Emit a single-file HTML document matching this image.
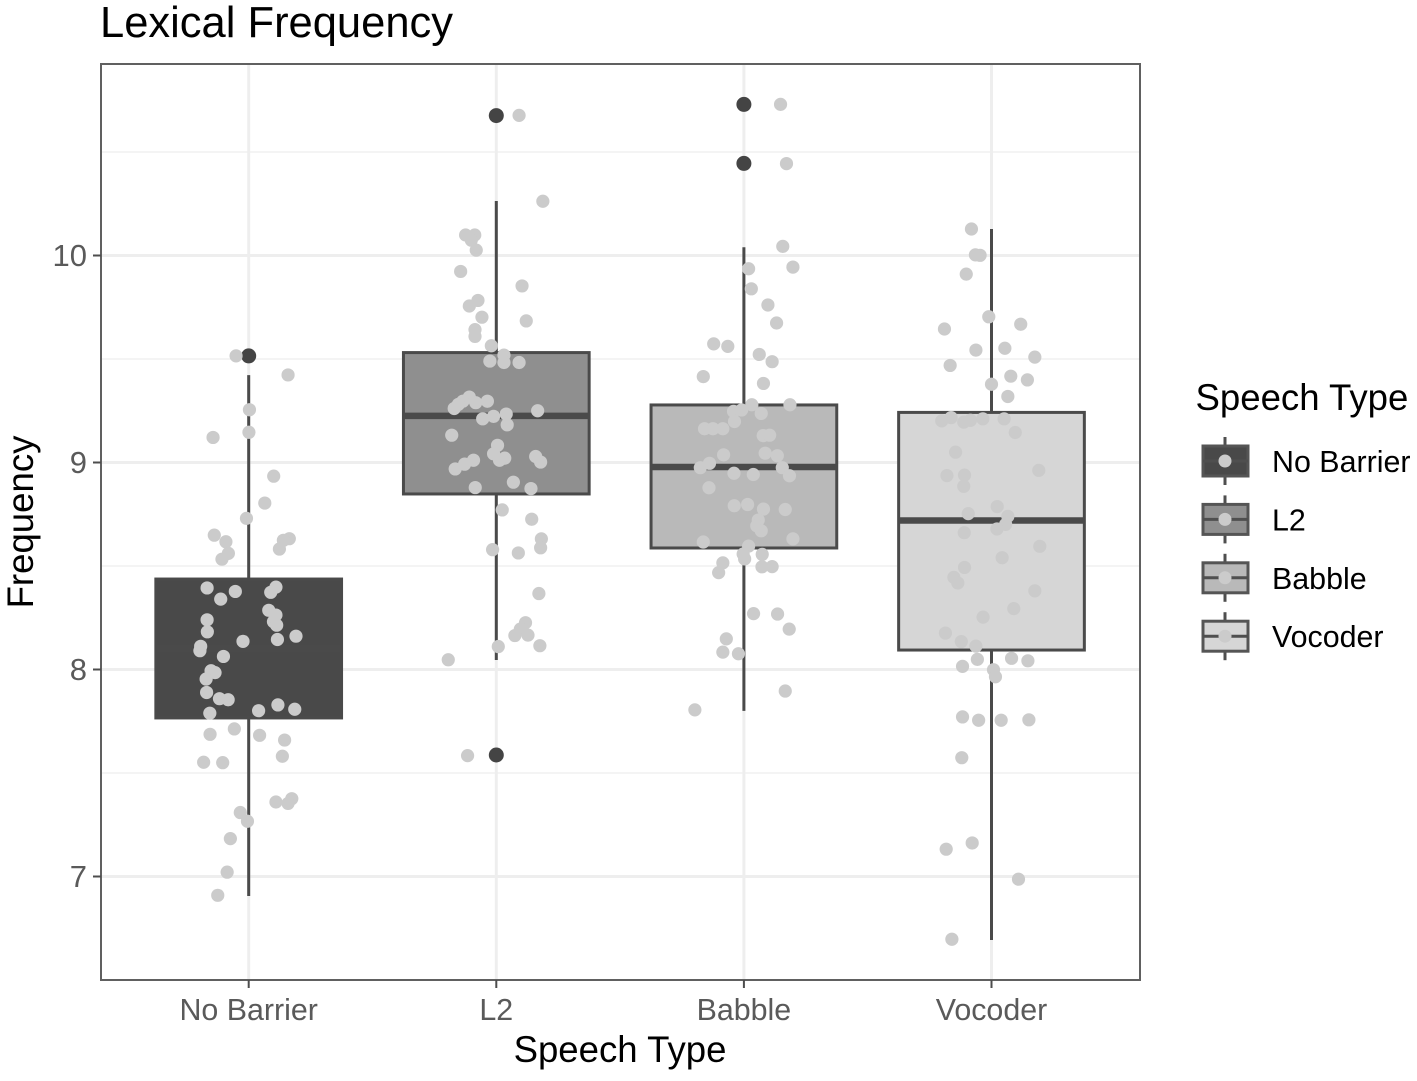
<!DOCTYPE html>
<html lang="en">
<head>
<meta charset="utf-8">
<title>Lexical Frequency</title>
<style>
html,body{margin:0;padding:0;background:#fff;}
svg{display:block;font-family:"Liberation Sans",Arial,sans-serif;}
</style>
</head>
<body>
<svg id="chart" width="1417" height="1081" viewBox="0 0 1417 1081" xmlns="http://www.w3.org/2000/svg">
  <rect x="0" y="0" width="1417" height="1081" fill="#fff"/>
  <text x="100" y="37" font-size="43.5" fill="#000">Lexical Frequency</text>
  <text x="620" y="1062" font-size="36.6" text-anchor="middle" fill="#000">Speech Type</text>
  <text x="0" y="0" transform="translate(33 522) rotate(-90)" font-size="36.6" text-anchor="middle" fill="#000">Frequency</text>
  <text x="1195.5" y="410" font-size="36.6" fill="#000">Speech Type</text>
  <g id="grid"></g>
  <g id="boxes"></g>
  <g id="points"></g>
  <rect x="101" y="64" width="1039" height="916" fill="none" stroke="#606060" stroke-width="2"/>
  <g id="axes"></g>
  <g id="legend"></g>
</svg>
<script>
const categories = ["No Barrier", "L2", "Babble", "Vocoder"];
const fills = ["#494949", "#8f8f8f", "#b9b9b9", "#d6d6d6"];
const yMajorTicks = [7, 8, 9, 10];
const yMinorTicks = [7.5, 8.5, 9.5, 10.5];

const q1 = [7.766, 8.848, 8.587, 8.094];
const medians = [8.10, 9.225, 8.978, 8.72];
const q3 = [8.437, 9.531, 9.278, 9.242];
const whiskerLow = [6.906, 8.046, 7.80, 6.693];
const whiskerHigh = [9.422, 10.263, 10.04, 10.128];
const outliersNoBarrier = [9.515];
const outliersL2 = [10.676, 7.587];
const outliersBabble = [10.73, 10.445];
const outliersVocoder = [];

const jitterNoBarrier = [-.051,.159,.003,.001,-.144,.101,.065,-.009,-.139,-.092,.164,.140,.124,-.082,-.108,-.168,-.054,-.113,.110,.089,.081,.110,-.168,-.167,.100,.113,.191,.116,-.023,-.194,-.197,-.102,-.136,-.152,-.172,-.170,-.118,-.083,-.157,.040,.118,.186,-.058,-.156,.044,.145,.136,-.182,-.105,.174,.110,.159,-.034,-.005,-.074,-.087,-.125];
const valuesNoBarrier = [9.515,9.423,9.255,9.146,9.121,8.934,8.804,8.730,8.649,8.617,8.632,8.624,8.582,8.561,8.533,8.394,8.377,8.340,8.398,8.373,8.286,8.263,8.240,8.182,8.231,8.214,8.161,8.145,8.136,8.112,8.091,8.063,7.985,7.994,7.954,7.889,7.859,7.854,7.789,7.801,7.829,7.808,7.713,7.687,7.682,7.659,7.581,7.552,7.550,7.376,7.360,7.353,7.309,7.267,7.183,7.021,6.909];

const jitterL2 = [.092,.188,-.124,-.087,-.101,-.081,-.144,.104,-.074,-.109,-.058,.121,-.086,-.086,-.020,.031,-.026,.031,.092,-.109,-.135,-.153,-.170,-.083,-.036,.167,-.011,.040,-.055,.044,-.180,.005,-.011,.034,.013,.159,.179,-.092,-.128,-.166,.069,-.085,.140,.024,.143,.182,.179,-.015,.089,.172,.118,.097,.075,.128,.176,.008,-.194,-.116];
const valuesL2 = [10.677,10.262,10.099,10.099,10.074,10.026,9.923,9.853,9.783,9.756,9.702,9.684,9.642,9.609,9.564,9.519,9.490,9.483,9.483,9.316,9.296,9.281,9.261,9.289,9.296,9.250,9.223,9.234,9.211,9.182,9.132,9.083,9.042,9.021,9.011,9.029,9.002,9.011,8.992,8.969,8.905,8.879,8.874,8.771,8.726,8.631,8.588,8.579,8.563,8.367,8.226,8.195,8.164,8.166,8.115,8.111,8.047,7.584];

const jitterBabble = [.148,.172,.157,.019,.198,.030,.097,.132,-.122,-.065,.062,.114,-.164,.079,.032,.186,-.009,-.042,.070,-.038,-.159,-.125,-.085,.078,.104,-.082,.086,.135,-.139,-.176,.155,-.040,.038,.184,-.141,-.039,.015,.079,.167,.058,.052,.070,.198,-.164,.019,-.003,.074,.003,-.085,.073,.114,-.102,.039,.136,.183,-.071,-.085,-.022,.167,-.198];
const valuesBabble = [10.730,10.444,10.044,9.936,9.944,9.839,9.761,9.674,9.573,9.561,9.522,9.487,9.415,9.382,9.279,9.279,9.254,9.247,9.237,9.198,9.163,9.163,9.163,9.130,9.132,9.037,9.045,9.033,8.996,8.975,8.975,8.948,8.942,8.936,8.878,8.791,8.797,8.775,8.773,8.722,8.694,8.670,8.631,8.616,8.596,8.558,8.556,8.534,8.515,8.496,8.497,8.468,8.270,8.268,8.195,8.148,8.084,8.076,7.896,7.805];

const jitterVocoder = [-.081,-.065,-.046,-.102,-.011,.118,-.190,-.063,.054,.175,-.167,.078,.145,0,.066,-.163,-.201,-.112,-.085,-.035,.051,.096,-.145,.191,-.180,-.109,-.112,.023,-.094,.066,.057,.022,-.110,.195,.043,-.109,-.152,-.136,.175,.090,-.034,-.186,-.122,-.063,-.057,.081,.147,-.117,.008,.016,-.117,-.052,.039,.151,-.120,-.078,-.183,.109,-.160];
const valuesVocoder = [10.128,10.003,10.001,9.910,9.704,9.668,9.645,9.543,9.552,9.509,9.469,9.417,9.399,9.378,9.319,9.217,9.201,9.195,9.204,9.211,9.211,9.145,9.050,8.962,8.937,8.939,8.885,8.787,8.753,8.740,8.701,8.679,8.661,8.595,8.540,8.493,8.445,8.418,8.380,8.294,8.253,8.176,8.135,8.113,8.049,8.054,8.042,8.015,7.999,7.965,7.771,7.755,7.755,7.757,7.574,7.162,7.132,6.987,6.697];

const outlierGroups = [outliersNoBarrier, outliersL2, outliersBabble, outliersVocoder];
const jitterGroups = [jitterNoBarrier, jitterL2, jitterBabble, jitterVocoder];
const valueGroups = [valuesNoBarrier, valuesL2, valuesBabble, valuesVocoder];

const NS = "http://www.w3.org/2000/svg";
const PLOT_LEFT = 101, PLOT_RIGHT = 1140, PLOT_TOP = 64, PLOT_BOTTOM = 980;
const BOX_HALF = 0.375, DARK = "#4a4a4a", DOT = "#cbcbcb";

function xScale(c) { return 248.7 + c * 247.6; }
function yScale(v) { return 255.5 + (10 - v) * 207; }

function make(parent, tag, props) {
  const el = document.createElementNS(NS, tag);
  for (const k in props) el.setAttribute(k, props[k]);
  parent.appendChild(el);
  return el;
}
function slug(s) { return s.toLowerCase().replace(/\s+/g, "-"); }

const gridG = document.getElementById("grid");
const boxesG = document.getElementById("boxes");
const pointsG = document.getElementById("points");
const axesG = document.getElementById("axes");
const legendG = document.getElementById("legend");

yMinorTicks.forEach(function (t) {
  const l = make(gridG, "line", {x1: PLOT_LEFT, x2: PLOT_RIGHT, y1: yScale(t), y2: yScale(t), stroke: "#f1f1f1", "stroke-width": 1.6});
  
  
});
yMajorTicks.forEach(function (t) {
  const l = make(gridG, "line", {x1: PLOT_LEFT, x2: PLOT_RIGHT, y1: yScale(t), y2: yScale(t), stroke: "#eeeeee", "stroke-width": 3});
  
  
});
categories.forEach(function (c, i) {
  const l = make(gridG, "line", {x1: xScale(i), x2: xScale(i), y1: PLOT_TOP, y2: PLOT_BOTTOM, stroke: "#eeeeee", "stroke-width": 3});
  
  
});

categories.forEach(function (c, i) {
  const key = slug(c);
  const cx = xScale(i);
  const wh = make(boxesG, "line", {x1: cx, x2: cx, y1: yScale(whiskerHigh[i]), y2: yScale(q3[i]), stroke: DARK, "stroke-width": 3});
  
  
  const wl = make(boxesG, "line", {x1: cx, x2: cx, y1: yScale(q1[i]), y2: yScale(whiskerLow[i]), stroke: DARK, "stroke-width": 3});
  
  
  const x0 = xScale(i - BOX_HALF), x1 = xScale(i + BOX_HALF);
  const box = make(boxesG, "rect", {x: x0, y: yScale(q3[i]), width: x1 - x0, height: yScale(q1[i]) - yScale(q3[i]), fill: fills[i], stroke: DARK, "stroke-width": 3});
  
  
  const med = make(boxesG, "line", {x1: x0, x2: x1, y1: yScale(medians[i]), y2: yScale(medians[i]), stroke: DARK, "stroke-width": 6.5});
  
  
  outlierGroups[i].forEach(function (v) {
    const o = make(boxesG, "circle", {cx: cx, cy: yScale(v), r: 7.5, fill: "#444"});
    
    
  });
});

categories.forEach(function (c, i) {
  const key = slug(c);
  valueGroups[i].forEach(function (v, j) {
    const p = make(pointsG, "circle", {cx: xScale(i + jitterGroups[i][j]), cy: yScale(v), r: 6.6, fill: DOT});
    
    
  });
});

yMajorTicks.forEach(function (t) {
  const tick = make(axesG, "line", {x1: 93, x2: PLOT_LEFT, y1: yScale(t), y2: yScale(t), stroke: "#4d4d4d", "stroke-width": 2});
  
  
  const lab = make(axesG, "text", {x: 87, y: yScale(t) + 10.5, "font-size": 31, "text-anchor": "end", fill: "#5a5a5a"});
  
  
  lab.textContent = String(t);
});
categories.forEach(function (c, i) {
  const tick = make(axesG, "line", {x1: xScale(i), x2: xScale(i), y1: PLOT_BOTTOM, y2: 988, stroke: "#4d4d4d", "stroke-width": 2});
  
  
  const lab = make(axesG, "text", {x: xScale(i), y: 1020, "font-size": 30.4, "text-anchor": "middle", fill: "#5a5a5a"});
  
  
  lab.textContent = c;
});

categories.forEach(function (c, i) {
  const key = slug(c);
  const cy = 461 + i * 58.4;
  const g = make(legendG, "g", {});
  
  
  const w = make(g, "line", {x1: 1225, x2: 1225, y1: cy - 24, y2: cy + 24, stroke: "#4f4f4f", "stroke-width": 3});
  
  
  const b = make(g, "rect", {x: 1203, y: cy - 15, width: 45, height: 30, fill: fills[i], stroke: "#555", "stroke-width": 3});
  
  
  const m = make(g, "line", {x1: 1203, x2: 1248, y1: cy, y2: cy, stroke: "#4f4f4f", "stroke-width": 3});
  
  
  const d = make(g, "circle", {cx: 1225, cy: cy, r: 6.5, fill: DOT});
  
  
  const t = make(g, "text", {x: 1272, y: cy + 11, "font-size": 30.4, fill: "#000"});
  
  
  t.textContent = c;
});
</script>
</body>
</html>
